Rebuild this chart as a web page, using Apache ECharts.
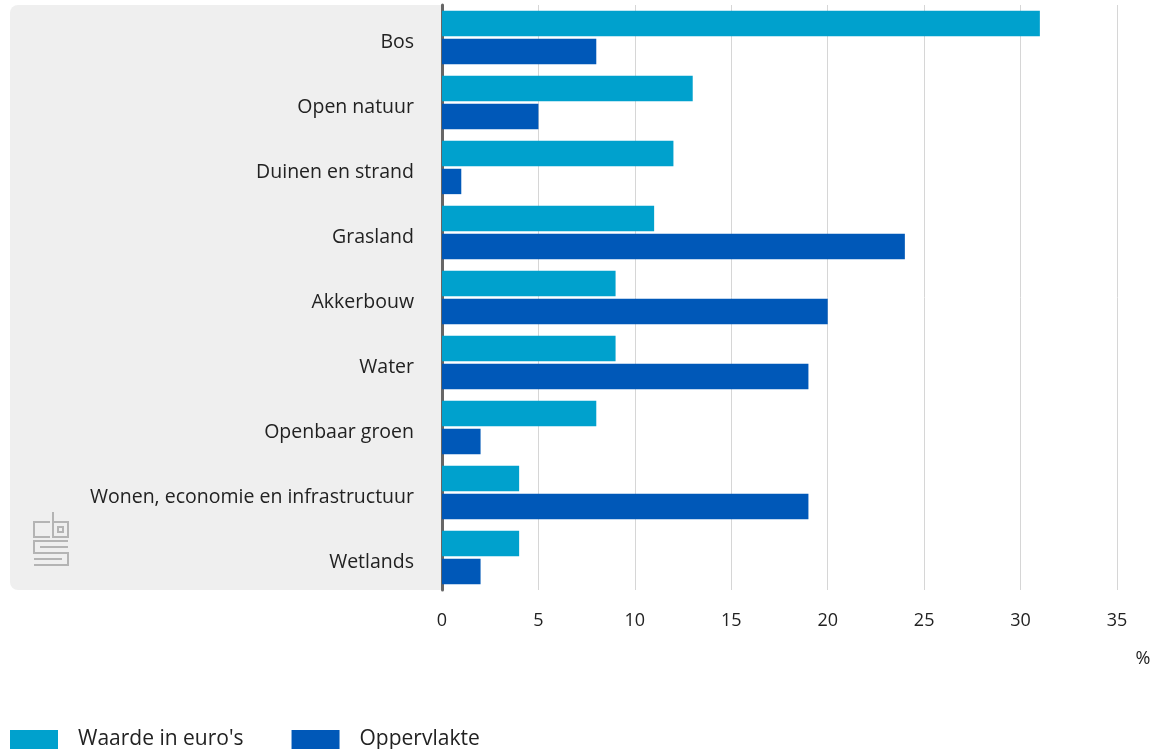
<!DOCTYPE html>
<html><head><meta charset="utf-8">
<script src="https://cdn.jsdelivr.net/npm/echarts@6/dist/echarts.min.js"></script>
<style>html,body{margin:0;padding:0;background:#fff}#c{width:1158px;height:749px}</style>
</head><body><div id="c"></div>
<script>
const categories = ["Bos","Open natuur","Duinen en strand","Grasland","Akkerbouw","Water","Openbaar groen","Wonen, economie en infrastructuur","Wetlands"];
const waarde = [31,13,12,11,9,9,8,4,4];
const oppervlakte = [8,5,1,24,20,19,2,19,2];
const xTicks = [0,5,10,15,20,25,30,35];
const FONT = '"Open Sans", sans-serif';
const chart = echarts.init(document.getElementById('c'), null, {renderer:'canvas'});
const logo = '#b4b4b4';
chart.setOption({
  animation:false,
  grid:{left:442,right:41,top:5,bottom:159,containLabel:false},
  xAxis:{type:'value',min:0,max:35,interval:5,
    axisLine:{show:false},axisTick:{show:false},
    splitLine:{show:true,lineStyle:{color:'#d6d6d6',width:1}},
    axisLabel:{margin:22,fontFamily:FONT,fontSize:18,color:'#222',formatter:v=>xTicks.includes(v)?String(v):''}},
  yAxis:{type:'category',data:categories,inverse:true,
    axisLine:{show:true,lineStyle:{color:'#666',width:3}},axisTick:{show:false},
    axisLabel:{margin:28,formatter:v=>'{a|'+v+'}',
      rich:{a:{fontFamily:FONT,fontSize:19.5,color:'#222',padding:[9,0,0,0]}}}},
  legend:{left:10,top:729,padding:0,itemWidth:48,itemHeight:19,itemGap:48,icon:'rect',
    textStyle:{fontFamily:FONT,fontSize:21,color:'#222',padding:[0,0,0,15]},
    data:['Waarde in euro\'s','Oppervlakte']},
  graphic:[
    {type:'rect',z:-10,shape:{x:10,y:5,width:432,height:585,r:[8,0,0,8]},style:{fill:'#efefef'}},
    {type:'text',style:{text:'%',x:1143,y:659,textAlign:'center',textVerticalAlign:'middle',font:'18px '+FONT,fill:'#222'}},
    {type:'polyline',shape:{points:[[50,522],[34,522],[34,537],[50,537]]},style:{stroke:logo,lineWidth:2,fill:null}},
    {type:'polyline',shape:{points:[[53,512],[53,537],[68,537],[68,522],[53,522]]},style:{stroke:logo,lineWidth:2,fill:null}},
    {type:'rect',shape:{x:58,y:527,width:5,height:5},style:{stroke:logo,lineWidth:2,fill:null}},
    {type:'polyline',shape:{points:[[68,541],[34,541],[34,553],[68,553],[68,565],[34,565]]},style:{stroke:logo,lineWidth:2,fill:null}},
    {type:'polyline',shape:{points:[[68,547],[40,547]]},style:{stroke:logo,lineWidth:2,fill:null}},
    {type:'polyline',shape:{points:[[34,559],[62,559]]},style:{stroke:logo,lineWidth:2,fill:null}}
  ],
  series:[
    {name:'Waarde in euro\'s',type:'bar',data:waarde,itemStyle:{color:'#00a1cd'},barGap:'10%',barCategoryGap:'18%'},
    {name:'Oppervlakte',type:'bar',data:oppervlakte,itemStyle:{color:'#0058b8'}}
  ]
});
</script></body></html>
